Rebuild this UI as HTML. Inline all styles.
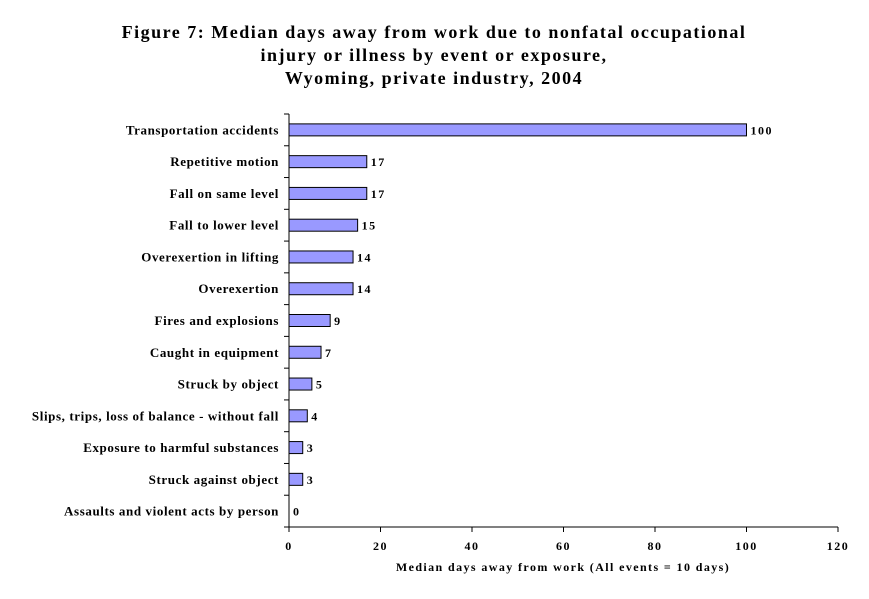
<!DOCTYPE html>
<html><head><meta charset="utf-8"><style>
body{margin:0;background:#fff;}
svg text{font-family:"Liberation Serif",serif;font-weight:bold;fill:#000;}
</style></head><body>
<svg width="869" height="594" xmlns="http://www.w3.org/2000/svg">
<g text-anchor="middle" letter-spacing="1.5">
<text x="434" y="38" style="font-size:18px">Figure 7:  Median days away from work due to nonfatal occupational</text>
<text x="434" y="61" style="font-size:18px">injury or illness by event or exposure,</text>
<text x="434" y="84" style="font-size:18px">Wyoming, private industry, 2004</text>
</g>
<g id="plot"></g>
<text x="563" y="571" text-anchor="middle" font-size="12" letter-spacing="1.4">Median days away from work (All events = 10 days)</text>
</svg>
<script>
const categories=["Transportation accidents","Repetitive motion","Fall on same level","Fall to lower level","Overexertion in lifting","Overexertion","Fires and explosions","Caught in equipment","Struck by object","Slips, trips, loss of balance - without fall","Exposure to harmful substances","Struck against object","Assaults and violent acts by person"];
const values=[100,17,17,15,14,14,9,7,5,4,3,3,0];
const xTicks=[0,20,40,60,80,100,120];
const X0=289,X1=838,Y0=114,Y1=527,XMAX=120;
const xs=v=>X0+(v/XMAX)*(X1-X0);
const band=(Y1-Y0)/categories.length;
const ys=i=>Y0+band*i+band/2;
const g=document.getElementById('plot');
const NS="http://www.w3.org/2000/svg";
function mk(t,a){const e=document.createElementNS(NS,t);for(const k in a)e.setAttribute(k,a[k]);g.appendChild(e);return e;}
categories.forEach((c,i)=>{
 const y=ys(i);
 if(values[i]>0){const r=mk('rect',{x:X0,y:y-6,width:xs(values[i])-X0,height:12,fill:'#9999ff',stroke:'#000','stroke-width':1});
 
 }
 const v=mk('text',{x:xs(values[i])+4,y:y+4.5,'font-size':12,'letter-spacing':'1.5'});v.textContent=values[i];
 
 
 const l=mk('text',{x:279,y:y+4.5,'font-size':13,'text-anchor':'end','letter-spacing':'0.6'});l.textContent=c;
 
 
});
for(let i=0;i<=categories.length;i++){const t=mk('line',{x1:X0-5,x2:X0,y1:Y0+band*i,y2:Y0+band*i,stroke:'#000'});
 
 }
const ya=mk('line',{x1:X0,x2:X0,y1:Y0,y2:Y1,stroke:'#000'});


const xa=mk('line',{x1:X0,x2:X1,y1:Y1,y2:Y1,stroke:'#000'});


xTicks.forEach(t=>{
 const l=mk('line',{x1:xs(t),x2:xs(t),y1:Y1,y2:Y1+5,stroke:'#000'});
 
 
 const tx=mk('text',{x:xs(t),y:Y1+23,'font-size':12,'text-anchor':'middle','letter-spacing':'1.5'});tx.textContent=t;
 
 
});
</script>
</body></html>
